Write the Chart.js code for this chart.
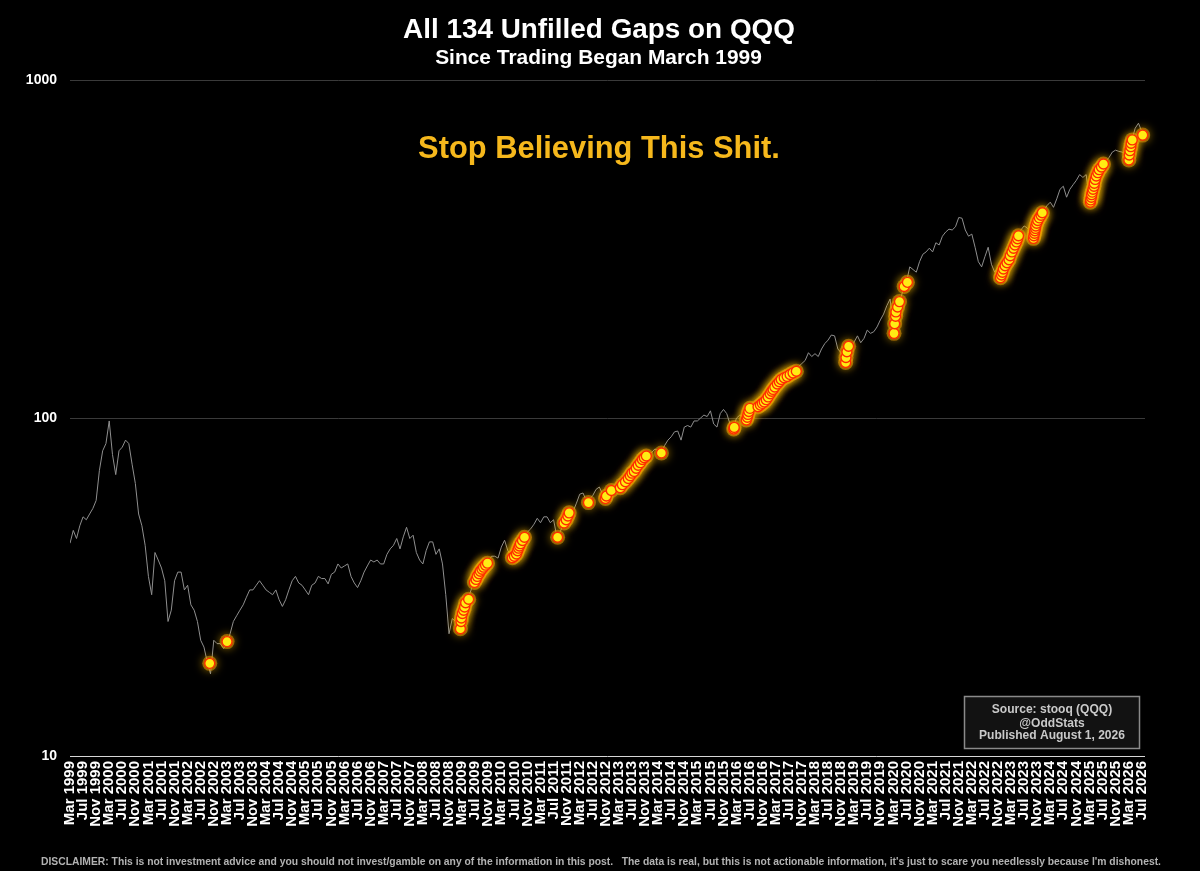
<!DOCTYPE html>
<html>
<head>
<meta charset="utf-8">
<script src="https://cdn.jsdelivr.net/npm/chart.js@4.4.1/dist/chart.umd.min.js"></script>
<style>
html,body{margin:0;padding:0;background:#000;}
#wrap{width:1200px;height:871px;position:relative;background:#000;}
canvas{display:block;}
</style>
</head>
<body>
<div id="wrap"><canvas id="c" width="1200" height="871"></canvas></div>
<script>
// ---------- DATA ----------
const startYear = 1999;
const startMonth = 3; // series starts March 1999, one value per month
const monthNames = ["Jan","Feb","Mar","Apr","May","Jun","Jul","Aug","Sep","Oct","Nov","Dec"];

// QQQ monthly price, Mar 1999 .. Aug 2026
const monthlyPrice = [
  42.6, 46.5, 44, 48, 51, 50, 52, 54, 57, 70,                     // 1999 Mar-Dec
  80, 84, 98, 78, 68, 80, 82, 86, 84, 73, 64, 52,                 // 2000
  48, 42, 34, 30, 40, 38, 36, 33, 25, 27, 33, 35,                 // 2001
  35, 31, 32, 28, 27, 25, 22, 21, 19, 17.5, 22, 21.5,             // 2002
  21.5, 20.8, 21.5, 23, 25, 26, 27, 28, 29.5, 31, 31, 32,         // 2003
  33, 32, 31, 30.5, 30, 31, 29, 27.7, 29, 31, 33, 34,             // 2004
  32.5, 32, 31, 30, 32, 32.5, 34, 33.5, 33.5, 32.3, 34.5, 35,     // 2005
  37, 36, 36.5, 37, 34, 32.5, 31.5, 33, 35, 36.5, 38, 37.5,       // 2006
  38, 37, 37, 39.5, 41, 42, 44, 41, 44.5, 47.5, 44, 45,           // 2007
  40, 38, 37, 40.5, 43, 43, 39.5, 41, 37, 30, 23, 25.5,           // 2008
  25, 23.5, 24.5, 28, 29.5, 31.5, 33.5, 35, 36, 36.5, 37.5, 39,   // 2009
  39, 38.5, 41.5, 43.5, 40.5, 39, 39.5, 40.5, 42, 44.5, 46, 47,   // 2010
  48.5, 50.5, 49, 51, 51, 49, 50, 44.5, 46, 48.5, 49.5, 50.5,     // 2011
  53, 56, 59.5, 60, 57, 57.5, 59, 61.5, 62.5, 59.5, 58, 59.5,     // 2012
  61, 61.5, 62.5, 64, 67, 66.5, 70, 71, 73, 76, 77.5, 79,         // 2013
  79, 81, 80, 79, 83, 86, 88, 91, 91.5, 86, 94, 95,               // 2014
  94, 98, 98, 100, 102, 101, 105, 96, 94, 103, 106, 103,          // 2015
  96, 94, 100, 102, 101, 99, 106, 108, 109, 110, 108.5, 111,      // 2016
  115, 120, 123, 127, 130, 131, 133, 136, 138, 142, 145, 148,     // 2017
  156, 152, 155, 152, 160, 166, 170, 176, 175, 160, 156, 142,     // 2018
  155, 160, 168, 175, 167, 172, 182, 178, 180, 186, 195, 203,     // 2019
  215, 225, 180, 210, 222, 240, 252, 280, 275, 270, 290, 305,     // 2020
  310, 318, 310, 330, 325, 345, 355, 362, 360, 368, 392, 390,     // 2021
  360, 345, 350, 320, 290, 280, 300, 320, 285, 270, 280, 265,     // 2022
  275, 290, 305, 315, 335, 360, 370, 365, 355, 345, 372, 398,     // 2023
  410, 425, 435, 420, 445, 475, 485, 450, 475, 490, 505, 525,     // 2024
  515, 525, 440, 470, 520, 545, 565, 575, 590, 612, 620, 615,     // 2025
  612, 605, 580, 665, 720, 745, 705, 690                          // 2026 Jan-Aug
];

// 134 unfilled gaps: date and price level
const gapDates = [
  "2002-09-25","2003-03-03",
  "2009-02-16","2009-02-22","2009-02-25","2009-03-04","2009-03-16","2009-03-25","2009-04-04","2009-05-01",
  "2009-06-25","2009-07-10","2009-07-22","2009-08-07","2009-08-19","2009-09-04","2009-09-19","2009-10-07","2009-10-25",
  "2010-06-13","2010-07-01","2010-07-21","2010-08-01","2010-08-10","2010-08-19","2010-08-28","2010-09-16","2010-10-04",
  "2011-08-08",
  "2011-10-07","2011-10-28","2011-11-13","2011-11-25",
  "2012-05-22",
  "2012-10-28","2012-11-06","2012-12-22",
  "2013-03-14","2013-04-03","2013-05-01","2013-05-28","2013-06-16","2013-07-01","2013-07-22","2013-08-10","2013-08-29","2013-09-19","2013-10-07","2013-10-25","2013-11-13",
  "2014-04-01",
  "2016-02-05","2016-02-10",
  "2016-06-01","2016-06-10","2016-06-16","2016-06-25","2016-07-04",
  "2016-09-19","2016-10-10","2016-10-28","2016-11-16","2016-12-04","2016-12-22","2017-01-10","2017-01-25","2017-02-07","2017-02-23","2017-03-16","2017-04-04","2017-04-22","2017-05-19","2017-06-16","2017-07-13","2017-08-10","2017-09-10",
  "2018-12-13","2018-12-16","2018-12-25","2019-01-10",
  "2020-03-07","2020-03-13","2020-03-22","2020-03-25","2020-04-10","2020-04-28","2020-06-10","2020-07-10",
  "2022-11-25","2022-12-04","2022-12-13","2022-12-22","2023-01-07","2023-01-25","2023-02-13","2023-02-25","2023-03-10","2023-03-25","2023-04-07","2023-04-22","2023-05-01","2023-05-10",
  "2023-09-28","2023-10-01","2023-10-07","2023-10-10","2023-10-16","2023-10-19","2023-10-28","2023-11-07","2023-11-22","2023-12-07","2023-12-19",
  "2025-03-10","2025-03-13","2025-03-19","2025-03-22","2025-03-28","2025-04-04","2025-04-13","2025-04-16","2025-04-25","2025-05-04","2025-05-19","2025-06-01","2025-06-22","2025-07-10",
  "2026-03-03","2026-03-07","2026-03-13","2026-03-22","2026-03-25","2026-04-04",
  "2026-07-10"
];
const gapPrices = [
  18.8, 21.8,
  23.8, 25.0, 25.6, 26.4, 27.0, 27.6, 28.4, 29.1,
  32.6, 33.3, 34.0, 34.6, 35.2, 35.7, 36.2, 36.7, 37.2,
  38.6, 39.0, 39.6, 40.5, 41.2, 41.8, 42.5, 43.4, 44.4,
  44.4,
  48.9, 50.0, 51.3, 52.4,
  56.2,
  57.8, 58.8, 61.0,
  62.2, 63.5, 64.8, 66.2, 67.5, 68.7, 69.5, 71.0, 72.5, 73.8, 75.4, 76.3, 77.2,
  78.8,
  92.8, 93.8,
  98.6, 100.5, 102.5, 104.5, 106.8,
  108.0, 109.2, 110.5, 111.6, 113.3, 115.5, 118, 120, 121.5, 123.5, 126, 128, 130, 131.5, 132.8, 134.5, 136, 137.5,
  146, 151, 157, 163,
  178, 190, 200, 206, 213, 221, 245, 252,
  260, 265, 270, 276, 282, 288, 294, 302, 310, 318, 325, 332, 339, 346,
  340, 346, 352, 358, 364, 370, 377, 384, 391, 398, 405,
  435, 442, 450, 458, 466, 475, 485, 495, 508, 520, 532, 543, 553, 564,
  580, 600, 618, 635, 650, 665,
  687
];

const yTickValues = [10, 100, 1000];
const xTickStep = 4;           // a label every 4 months: Mar / Jul / Nov
const xTickLast = 328;         // Jul 2026

const titleText = "All 134 Unfilled Gaps on QQQ";
const subtitleText = "Since Trading Began March 1999";
const calloutText = "Stop Believing This Shit.";
const sourceLines = ["Source: stooq (QQQ)", "@OddStats", "Published August 1, 2026"];
const disclaimerText = "DISCLAIMER: This is not investment advice and you should not invest/gamble on any of the information in this post.   The data is real, but this is not actionable information, it's just to scare you needlessly because I'm dishonest.";

// ---------- HELPERS ----------
const FAMILY = "'Liberation Sans', Arial, Helvetica, sans-serif";
function monthLabel(m) {
  const total = (startMonth - 1) + m;
  return monthNames[total % 12] + " " + (startYear + Math.floor(total / 12));
}
function toMonthIndex(s) {
  const p = s.split("-").map(Number);
  return (p[0] - startYear) * 12 + (p[1] - startMonth) + (p[2] - 1) / 31;
}
const xTickValues = [];
for (let m = 0; m <= xTickLast; m += xTickStep) xTickValues.push(m);
const xTickLabels = xTickValues.map(monthLabel);

const lineData = monthlyPrice.map((v, i) => ({x: i, y: v}));
const gapData = gapDates.map((d, i) => ({x: toMonthIndex(d), y: gapPrices[i]}));

function fitSize(ctx, text, width, weight) {
  ctx.font = weight + " 100px " + FAMILY;
  return 100 * width / ctx.measureText(text).width;
}

const bgPlugin = {
  id: "bg",
  beforeDraw(chart) {
    const c = chart.ctx;
    c.save(); c.fillStyle = "#000"; c.fillRect(0, 0, chart.width, chart.height); c.restore();
  }
};
const glowPlugin = {
  id: "glow",
  beforeDatasetDraw(chart, args) {
    const ds = chart.data.datasets[args.index];
    if (ds.glow) {
      const c = chart.ctx;
      c.save();
      c.shadowColor = "rgba(255,190,0,0.95)";
      c.shadowBlur = 9;
    }
  },
  afterDatasetDraw(chart, args) {
    const ds = chart.data.datasets[args.index];
    if (ds.glow) chart.ctx.restore();
  }
};
const textPlugin = {
  id: "texts",
  afterDraw(chart) {
    const c = chart.ctx;
    c.save();
    c.textAlign = "center";
    c.textBaseline = "alphabetic";
    // title
    let s = fitSize(c, titleText, 392, "bold");
    c.font = "bold " + s + "px " + FAMILY; c.fillStyle = "#ffffff";
    c.fillText(titleText, 599, 38);
    s = fitSize(c, subtitleText, 327, "bold");
    c.font = "bold " + s + "px " + FAMILY;
    c.fillText(subtitleText, 598.5, 64);
    // callout
    s = fitSize(c, calloutText, 362, "bold");
    c.font = "bold " + s + "px " + FAMILY; c.fillStyle = "#f6b81c";
    c.fillText(calloutText, 599, 158);
    // source box
    c.fillStyle = "#121212";
    c.fillRect(964.5, 696.5, 175, 52);
    c.strokeStyle = "#8a8a8a"; c.lineWidth = 1.5;
    c.strokeRect(964.5, 696.5, 175, 52);
    s = fitSize(c, sourceLines[2], 146, "bold");
    c.font = "bold " + s + "px " + FAMILY; c.fillStyle = "#c9c9c9";
    const bl = [713, 726.5, 739];
    sourceLines.forEach((t, i) => c.fillText(t, 1052, bl[i]));
    // disclaimer
    s = fitSize(c, disclaimerText, 1122, "bold");
    c.font = "bold " + s + "px " + FAMILY; c.fillStyle = "#b2b2b2";
    c.fillText(disclaimerText, 601, 865);
    c.restore();
  }
};

new Chart(document.getElementById("c"), {
  type: "line",
  data: {
    datasets: [
      {
        label: "gaps",
        type: "scatter",
        data: gapData,
        order: 0,
        clip: false,
        pointRadius: 5,
        pointBackgroundColor: "#ffec14",
        pointBorderColor: "#ff2c00",
        pointBorderWidth: 1.4,
        showLine: false
      },
      {
        label: "glow",
        type: "scatter",
        data: gapData,
        order: 1,
        clip: false,
        glow: true,
        pointRadius: 7.5,
        pointBackgroundColor: "rgba(235,150,0,0.55)",
        pointBorderWidth: 0,
        pointBorderColor: "rgba(0,0,0,0)",
        showLine: false
      },
      {
        label: "QQQ",
        data: lineData,
        order: 2,
        borderColor: "#8f8f8f",
        borderWidth: 1,
        pointRadius: 0,
        tension: 0,
        fill: false
      }
    ]
  },
  options: {
    responsive: false,
    animation: false,
    events: [],
    devicePixelRatio: 1,
    layout: { padding: { top: 80, left: 0, right: 55, bottom: 0 } },
    plugins: { legend: { display: false }, tooltip: { enabled: false }, title: { display: false } },
    scales: {
      x: {
        type: "linear",
        min: 0,
        max: monthlyPrice.length - 1,
        afterBuildTicks: (scale) => { scale.ticks = xTickValues.map(v => ({value: v})); },
        afterFit: (scale) => { scale.height = 115; },
        grid: { display: false, drawTicks: false },
        border: { display: false },
        ticks: {
          autoSkip: false,
          minRotation: 90,
          maxRotation: 90,
          padding: 5,
          color: "#ffffff",
          font: { family: FAMILY, size: 15, weight: "bold" },
          callback: (v) => { const i = xTickValues.indexOf(v); return i >= 0 ? xTickLabels[i] : ""; }
        }
      },
      y: {
        type: "logarithmic",
        min: 10,
        max: 1000,
        afterBuildTicks: (scale) => { scale.ticks = yTickValues.map(v => ({value: v})); },
        afterFit: (scale) => { scale.width = 70; },
        border: { display: false },
        grid: {
          drawTicks: false,
          lineWidth: 1,
          color: (ctx) => (ctx.tick && ctx.tick.value === 10) ? "#d6d6d6" : "#3a3a3a"
        },
        ticks: {
          padding: 13,
          color: "#ffffff",
          font: { family: FAMILY, size: 14, weight: "bold" },
          callback: (v) => String(v)
        }
      }
    }
  },
  plugins: [bgPlugin, glowPlugin, textPlugin]
});
</script>
</body>
</html>
